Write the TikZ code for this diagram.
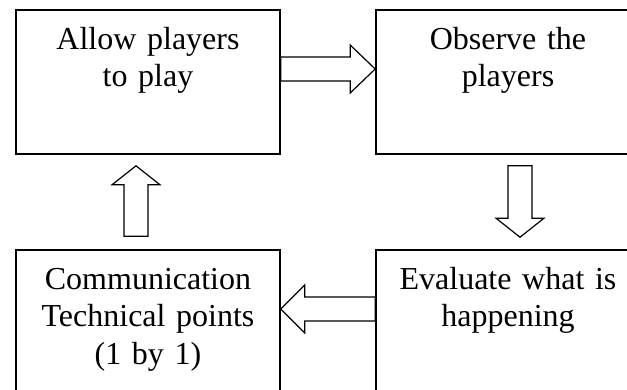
\documentclass[tikz,border=0pt]{standalone}
\usepackage{fontspec}
\setmainfont{Liberation Serif}
\usetikzlibrary{calc, positioning}

\begin{document}
\begin{tikzpicture}[x=1pt, y=1pt,
        stage/.style={draw, line width=1.6pt, minimum width=264pt, minimum height=144pt, inner sep=0pt},
        stagetext/.style={text width=264pt, align=center, inner sep=0pt, anchor=base,
            font=\fontsize{32}{37.5}\selectfont},
        blockarrow/.style={draw, line width=1.2pt, line join=miter}]
        \useasboundingbox (0, 0) rectangle (627, 389);
        \clip (0, 0) rectangle (627, 389);
        \node [stage] (play) at (148, 307) {};
        \node [stage] (observe) at (508, 307) {};
        \node [stage] (comm) at (148, 67) {};
        \node [stage] (evaluate) at (508, 67) {};
        \node [stagetext] (playtext) at ([yshift=-40pt]play.north) {Allow players\\to play};
        \node [stagetext] (observetext) at ([yshift=-40pt]observe.north) {Observe the\\players};
        \node [stagetext] (commtext) at ([yshift=-40pt]comm.north) {Communication\\Technical points\\(1 by 1)};
        \node [stagetext] (evaluatetext) at ([yshift=-40pt]evaluate.north) {Evaluate what is\\happening};
        \coordinate (playout) at ([yshift=13pt]play.east);
        \coordinate (observein) at ([yshift=13pt]observe.west);
        \coordinate (observeout) at ([xshift=12pt, yshift=-11pt]observe.south);
        \coordinate (evaluatein) at ([xshift=12pt, yshift=12pt]evaluate.north);
        \coordinate (evaluateout) at ([yshift=13pt]evaluate.west);
        \coordinate (commin) at ([yshift=13pt]comm.east);
        \coordinate (commout) at ([xshift=-12pt, yshift=13pt]comm.north);
        \coordinate (playin) at ([xshift=-12pt, yshift=-11pt]play.south);
        \foreach \tail/\tip/\head in {playout/observein/25pt, observeout/evaluatein/19pt,
                evaluateout/commin/24pt, commout/playin/19pt} {
            \coordinate (hb) at ($(\tip)!\head!(\tail)$);
            \path [blockarrow] ($(\tail)!12pt!90:(\tip)$) -- ($(hb)!12pt!90:(\tip)$)
                -- ($(hb)!24pt!90:(\tip)$) -- (\tip) -- ($(hb)!24pt!-90:(\tip)$)
                -- ($(hb)!12pt!-90:(\tip)$) -- ($(\tail)!12pt!-90:(\tip)$) -- cycle;
        }
    \end{tikzpicture}
\end{document}
